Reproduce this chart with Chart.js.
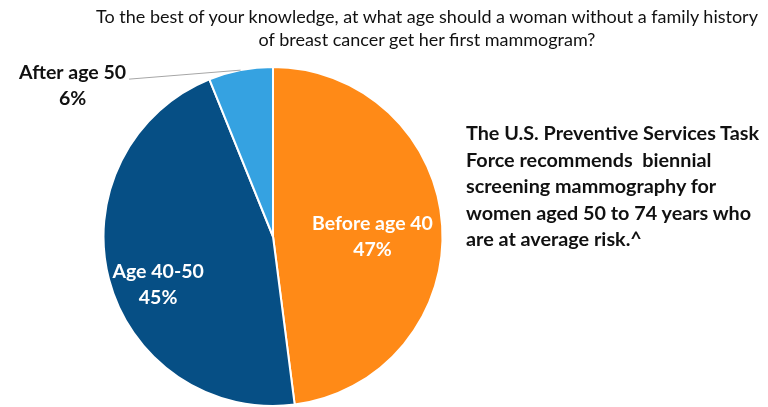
<!DOCTYPE html>
<html>
<head>
<meta charset="utf-8">
<script src="https://cdn.jsdelivr.net/npm/chart.js@4"></script>
<style>
  html, body { margin: 0; padding: 0; background: #fff; }
  #wrap { position: relative; width: 768px; height: 407px; overflow: hidden; font-family: Lato, "Liberation Sans", sans-serif; }
  #title { position: absolute; left: 80px; width: 694px; top: 5px; text-align: center; font-size: 18px; line-height: 23px; color: #111; }
  #note { position: absolute; left: 466px; top: 119px; width: 302px; font-size: 19.8px; font-weight: bold; line-height: 26.5px; color: #111; white-space: nowrap; }
  canvas { position: absolute; left: 0; top: 0; }
</style>
</head>
<body>
<div id="wrap">
  <canvas id="pie" width="768" height="407"></canvas>
  <div id="title">To the best of your knowledge, at what age should a woman without a family history<br>of breast cancer get her first mammogram?</div>
  <div id="note">The U.S. Preventive Services Task<br>Force recommends &nbsp;biennial<br>screening mammography for<br>women aged 50 to 74 years who<br>are at average risk.^</div>
</div>
<script>
const categories = ['Before age 40', 'Age 40-50', 'After age 50'];
const shares = [47, 45, 6];
const pctLabels = ['47%', '45%', '6%'];
const colors = ['#FF8A17', '#064F85', '#35A2E1'];

// label placement: fraction of radius inside, or outside with a leader line
const labelSpots = [
  { r: 0.6, dx: -2, dy: 7 },
  { r: 0.78, dx: 13, dy: 15 },
  { outside: true, dx: -168, dy: 16 }
];

const sliceLabels = {
  id: 'sliceLabels',
  afterDatasetsDraw(chart) {
    const ctx = chart.ctx;
    const meta = chart.getDatasetMeta(0);
    ctx.save();
    ctx.font = 'bold 19.5px Lato, "Liberation Sans", sans-serif';
    ctx.textAlign = 'center';
    ctx.textBaseline = 'middle';
    meta.data.forEach((arc, i) => {
      const p = arc.getProps(['x', 'y', 'startAngle', 'endAngle', 'outerRadius'], true);
      const mid = (p.startAngle + p.endAngle) / 2;
      const spot = labelSpots[i];
      let x, y;
      if (spot.outside) {
        const ex = p.x + Math.cos(mid) * p.outerRadius;
        const ey = p.y + Math.sin(mid) * p.outerRadius;
        x = ex + spot.dx;
        y = ey + spot.dy;
        const w = ctx.measureText(categories[i]).width;
        ctx.strokeStyle = '#a6a6a6';
        ctx.lineWidth = 1;
        ctx.beginPath();
        ctx.moveTo(x + w / 2 + 3, y - 7);
        ctx.lineTo(ex, ey);
        ctx.stroke();
        ctx.fillStyle = '#111';
      } else {
        x = p.x + Math.cos(mid) * p.outerRadius * spot.r + spot.dx;
        y = p.y + Math.sin(mid) * p.outerRadius * spot.r + spot.dy;
        ctx.fillStyle = '#fff';
      }
      ctx.fillText(categories[i], x, y - 13);
      ctx.fillText(pctLabels[i], x, y + 13);
    });
    ctx.restore();
  }
};

new Chart(document.getElementById('pie'), {
  type: 'pie',
  data: {
    labels: categories,
    datasets: [{
      data: shares,
      backgroundColor: colors,
      borderColor: '#fff',
      borderWidth: 2
    }]
  },
  options: {
    responsive: false,
    animation: false,
    layout: { padding: { left: 102, right: 324, top: 66, bottom: -1 } },
    plugins: { legend: { display: false }, tooltip: { enabled: false } }
  },
  plugins: [sliceLabels]
});
</script>
</body>
</html>
